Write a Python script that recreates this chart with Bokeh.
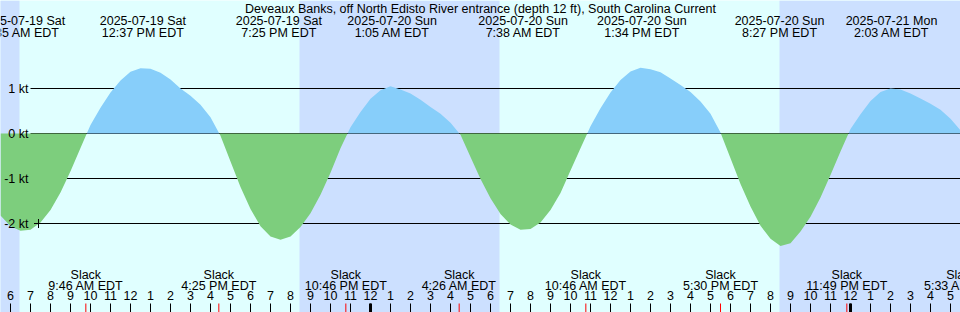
import numpy as np
import pandas as pd
from bokeh.plotting import figure
from bokeh.models import Range1d
from bokeh.embed import file_html
from bokeh.resources import INLINE
from bokeh.core.properties import value

# ---------------- data ----------------
TITLE = "Deveaux Banks, off North Edisto River entrance (depth 12 ft), South Carolina Current"
ORIGIN = pd.Timestamp("2025-07-19 00:00")

# current speed (kt), one reading every 30 minutes starting 2025-07-19 05:30 EDT
series_start = "2025-07-19 05:30"
series_step_min = 30
current_kt = [
    -1.82, -2.06, -2.16, -2.14, -1.98, -1.70, -1.31, -0.84, -0.32,
    0.19, 0.57, 0.91, 1.18, 1.37, 1.45, 1.44, 1.35, 1.20, 1.00, 0.84, 0.64, 0.36,
    -0.05, -0.62, -1.19, -1.68, -2.06, -2.29, -2.36, -2.29, -2.08, -1.77, -1.36, -0.87, -0.33,
    0.14, 0.48, 0.77, 0.96, 1.05, 0.98, 0.89, 0.75, 0.59, 0.44, 0.24, -0.03,
    -0.52, -1.01, -1.44, -1.79, -2.02, -2.14, -2.12, -1.98, -1.70, -1.32, -0.82, -0.33,
    0.16, 0.56, 0.91, 1.19, 1.38, 1.46, 1.43, 1.36, 1.22, 1.08, 0.92, 0.71, 0.44, 0.02,
    -0.55, -1.12, -1.62, -2.05, -2.34, -2.50, -2.44, -2.18, -1.85, -1.42, -0.92, -0.40,
    0.10, 0.43, 0.72, 0.92, 1.00, 0.98, 0.89, 0.78, 0.66, 0.53, 0.33, 0.07,
]

# max flood / max ebb events (top labels)
extreme_times = ["2025-07-19 06:35", "2025-07-19 12:37", "2025-07-19 19:25", "2025-07-20 01:05",
                 "2025-07-20 07:38", "2025-07-20 13:34", "2025-07-20 20:27", "2025-07-21 02:03"]
extreme_dates = ["2025-07-19 Sat", "2025-07-19 Sat", "2025-07-19 Sat", "2025-07-20 Sun",
                 "2025-07-20 Sun", "2025-07-20 Sun", "2025-07-20 Sun", "2025-07-21 Mon"]
extreme_labels = ["6:35 AM EDT", "12:37 PM EDT", "7:25 PM EDT", "1:05 AM EDT",
                  "7:38 AM EDT", "1:34 PM EDT", "8:27 PM EDT", "2:03 AM EDT"]

# slack water events (bottom labels)
slack_times = ["2025-07-19 09:46", "2025-07-19 16:25", "2025-07-19 22:46", "2025-07-20 04:26",
               "2025-07-20 10:46", "2025-07-20 17:30", "2025-07-20 23:49", "2025-07-21 05:33"]
slack_labels = ["9:46 AM EDT", "4:25 PM EDT", "10:46 PM EDT", "4:26 AM EDT",
                "10:46 AM EDT", "5:30 PM EDT", "11:49 PM EDT", "5:33 AM EDT"]

# night periods
sunsets = ["2025-07-18 20:27", "2025-07-19 20:27", "2025-07-20 20:27"]
sunrises = ["2025-07-19 06:27", "2025-07-20 06:27", "2025-07-21 06:27"]

# y levels and labels
grid_kt = [1, 0, -1, -2]
grid_labels = ["1 kt", "0 kt", "-1 kt", "-2 kt"]

# hour ticks
tick_start = "2025-07-19 06:00"
tick_labels = ["6", "7", "8", "9", "10", "11", "12", "1", "2", "3", "4", "5",
               "6", "7", "8", "9", "10", "11", "12", "1", "2", "3", "4", "5",
               "6", "7", "8", "9", "10", "11", "12", "1", "2", "3", "4", "5",
               "6", "7", "8", "9", "10", "11", "12", "1", "2", "3", "4", "5"]
midnights = ["2025-07-20 00:00", "2025-07-21 00:00"]

# marker
mark_time = "2025-07-19 07:24"
mark_kt = -2

# ---------------- style ----------------
DAY = "#e0ffff"
NIGHT = "#cce0ff"
FLOOD = "#87cefa"
EBB = "#7dce7d"
FONT = value("Liberation Sans")
FS = "12.5px"

W, H = 960, 312
X0, X1 = 5.5, 53.5          # hours since origin
PX_PER_KT = 45.0
ZERO_PX = 133.0
Y_TOP = ZERO_PX / PX_PER_KT
Y_BOT = -(H - ZERO_PX) / PX_PER_KT


def hrs(s):
    return (pd.Timestamp(s) - ORIGIN).total_seconds() / 3600.0


def ky(py):  # screen pixel row -> kt
    return Y_TOP - py / PX_PER_KT


def hx(px):  # screen pixel column -> hours
    return X0 + px * (X1 - X0) / W


p = figure(width=W, height=H, output_backend="svg", toolbar_location=None,
           x_range=Range1d(X0, X1), y_range=Range1d(Y_BOT, Y_TOP),
           min_border=0, min_border_left=0, min_border_right=0,
           min_border_top=0, min_border_bottom=0)
p.axis.visible = False
p.grid.visible = False
p.outline_line_color = None
p.background_fill_color = DAY
p.border_fill_color = DAY

# night bands
p.quad(left=[hrs(s) for s in sunsets], right=[hrs(s) for s in sunrises],
       bottom=Y_BOT, top=Y_TOP, fill_color=NIGHT, line_color=None)

# grid lines
p.segment(x0=hx(30), x1=X1, y0=grid_kt, y1=grid_kt, line_color="black", line_width=1)

# current curve with zero crossings inserted
t = hrs(series_start) + np.arange(len(current_kt)) * series_step_min / 60.0
v = np.array(current_kt, dtype=float)
ts, vs = [t[0]], [v[0]]
for i in range(1, len(v)):
    if v[i - 1] * v[i] < 0:
        tc = t[i - 1] + (t[i] - t[i - 1]) * v[i - 1] / (v[i - 1] - v[i])
        ts.append(tc)
        vs.append(0.0)
    ts.append(t[i])
    vs.append(v[i])
ts = np.array(ts)
vs = np.array(vs)
p.varea(x=ts, y1=np.zeros_like(vs), y2=np.maximum(vs, 0), fill_color=FLOOD)
p.varea(x=ts, y1=np.zeros_like(vs), y2=np.minimum(vs, 0), fill_color=EBB)

# marker
p.scatter(x=[hrs(mark_time)], y=[mark_kt], marker="cross", size=9,
          line_color="black", line_width=1)

TXT = dict(text_font=FONT, text_font_size=FS, text_baseline="middle", text_color="black")

# y labels
p.text(x=hx(28), y=grid_kt, text=grid_labels, text_align="right", **TXT)

# title
p.text(x=[(X0 + X1) / 2], y=[ky(8)], text=[TITLE], text_align="center", **TXT)

# extremes labels
ex = [hrs(s) for s in extreme_times]
p.text(x=ex, y=ky(20), text=extreme_dates, text_align="center", **TXT)
p.text(x=ex, y=ky(32), text=extreme_labels, text_align="center", **TXT)

# slack labels
sx = [hrs(s) for s in slack_times]
p.text(x=sx, y=ky(274), text=["Slack"] * len(sx), text_align="center", **TXT)
p.text(x=sx, y=ky(285), text=slack_labels, text_align="center", **TXT)

# hour ticks
tx = hrs(tick_start) + np.arange(len(tick_labels))
p.segment(x0=tx, x1=tx, y0=ky(303), y1=Y_BOT, line_color="black", line_width=1)
mx = [hrs(s) for s in midnights]
p.segment(x0=mx, x1=mx, y0=ky(303), y1=Y_BOT, line_color="black", line_width=3)
p.segment(x0=sx, x1=sx, y0=ky(303), y1=Y_BOT, line_color="red", line_width=1)
p.text(x=tx, y=ky(295), text=tick_labels, text_align="center", **TXT)

open("out.html", "w").write(file_html(p, INLINE))
